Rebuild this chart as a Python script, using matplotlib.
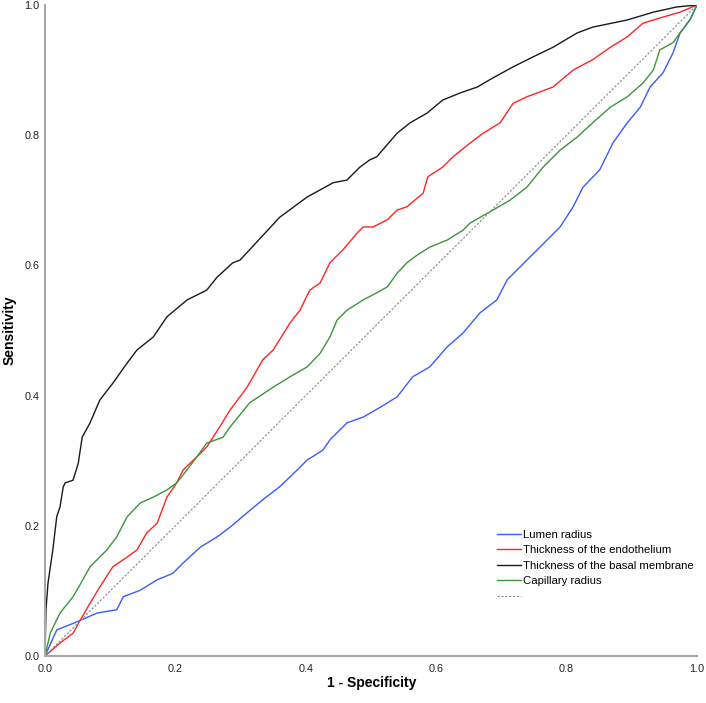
import numpy as np
import matplotlib
matplotlib.use('Agg')
import matplotlib.pyplot as plt

plt.rcParams['font.family'] = ['Liberation Sans', 'DejaVu Sans']

# ROC curves (1 - specificity, sensitivity)
lumen_fpr = [0, 0.018, 0.043, 0.08, 0.11, 0.12, 0.146, 0.172, 0.196, 0.212, 0.238, 0.264, 0.284,
             0.31, 0.334, 0.36, 0.387, 0.402, 0.426, 0.437, 0.463, 0.488, 0.514, 0.54, 0.564, 0.59,
             0.617, 0.641, 0.667, 0.693, 0.709, 0.729, 0.752, 0.77, 0.79, 0.81, 0.825, 0.851, 0.871,
             0.893, 0.913, 0.928, 0.948, 0.963, 0.974, 0.989, 1.0]
lumen_tpr = [0, 0.04, 0.05, 0.066, 0.071, 0.091, 0.101, 0.117, 0.127, 0.143, 0.167, 0.183, 0.198,
             0.22, 0.24, 0.26, 0.286, 0.301, 0.316, 0.332, 0.358, 0.367, 0.382, 0.398, 0.429, 0.444,
             0.475, 0.496, 0.527, 0.547, 0.578, 0.598, 0.621, 0.639, 0.659, 0.69, 0.72, 0.747, 0.788,
             0.819, 0.843, 0.874, 0.896, 0.926, 0.957, 0.977, 1.0]

endo_fpr = [0, 0.023, 0.043, 0.054, 0.069, 0.084, 0.104, 0.126, 0.141, 0.156, 0.172, 0.187, 0.202,
            0.212, 0.233, 0.248, 0.268, 0.284, 0.299, 0.31, 0.334, 0.35, 0.376, 0.391, 0.406, 0.422,
            0.437, 0.457, 0.479, 0.488, 0.503, 0.525, 0.54, 0.555, 0.58, 0.587, 0.61, 0.626, 0.652,
            0.672, 0.698, 0.718, 0.739, 0.779, 0.81, 0.84, 0.867, 0.893, 0.917, 0.943, 0.974, 1.0]
endo_tpr = [0, 0.02, 0.035, 0.055, 0.081, 0.106, 0.137, 0.152, 0.163, 0.189, 0.204, 0.244, 0.266,
            0.286, 0.306, 0.321, 0.352, 0.378, 0.398, 0.413, 0.455, 0.47, 0.512, 0.531, 0.562, 0.573,
            0.604, 0.624, 0.65, 0.659, 0.659, 0.67, 0.685, 0.69, 0.711, 0.736, 0.751, 0.767, 0.788,
            0.803, 0.819, 0.849, 0.859, 0.874, 0.9, 0.916, 0.935, 0.951, 0.972, 0.98, 0.989, 1.0]

basal_fpr = [0, 0.0015, 0.0046, 0.012, 0.018, 0.023, 0.028, 0.031, 0.043, 0.051, 0.057, 0.069, 0.084,
             0.104, 0.126, 0.141, 0.166, 0.187, 0.218, 0.248, 0.264, 0.288, 0.299, 0.36, 0.402, 0.442,
             0.463, 0.483, 0.498, 0.509, 0.54, 0.56, 0.586, 0.61, 0.637, 0.663, 0.687, 0.718, 0.748,
             0.779, 0.816, 0.84, 0.893, 0.933, 0.969, 1.0]
basal_tpr = [0, 0.071, 0.112, 0.163, 0.214, 0.229, 0.26, 0.266, 0.27, 0.296, 0.336, 0.358, 0.393,
             0.419, 0.45, 0.47, 0.49, 0.521, 0.547, 0.562, 0.582, 0.604, 0.608, 0.674, 0.705, 0.727,
             0.731, 0.751, 0.762, 0.767, 0.803, 0.819, 0.834, 0.854, 0.865, 0.874, 0.888, 0.905, 0.92,
             0.935, 0.957, 0.966, 0.977, 0.989, 0.997, 1.0]

cap_fpr = [0, 0.008, 0.023, 0.043, 0.058, 0.069, 0.095, 0.11, 0.126, 0.146, 0.166, 0.187, 0.202,
           0.218, 0.233, 0.248, 0.273, 0.284, 0.314, 0.35, 0.376, 0.402, 0.422, 0.437, 0.448, 0.463,
           0.488, 0.509, 0.525, 0.54, 0.555, 0.571, 0.59, 0.617, 0.641, 0.652, 0.687, 0.713, 0.739,
           0.764, 0.79, 0.816, 0.84, 0.867, 0.893, 0.917, 0.933, 0.943, 0.963, 0.974, 0.989, 1.0]
cap_tpr = [0, 0.035, 0.066, 0.091, 0.117, 0.137, 0.163, 0.183, 0.214, 0.235, 0.244, 0.255, 0.266,
           0.286, 0.306, 0.327, 0.336, 0.352, 0.389, 0.413, 0.429, 0.444, 0.465, 0.49, 0.516, 0.531,
           0.547, 0.558, 0.567, 0.588, 0.604, 0.616, 0.628, 0.639, 0.654, 0.665, 0.685, 0.7, 0.72,
           0.751, 0.777, 0.797, 0.819, 0.843, 0.859, 0.88, 0.9, 0.931, 0.942, 0.957, 0.977, 1.0]

labels = ['Lumen radius', 'Thickness of the endothelium', 'Thickness of the basal membrane',
          'Capillary radius']
ticks = [0.0, 0.2, 0.4, 0.6, 0.8, 1.0]

colors = ['#3a5bff', '#ff2424', '#1a1a1a', '#3c943c']

fig = plt.figure(figsize=(7.06, 7.03), dpi=100)
ax = fig.add_axes([45/706, 47/703, 652/706, 651/703])

curves = [(lumen_fpr, lumen_tpr), (endo_fpr, endo_tpr), (basal_fpr, basal_tpr), (cap_fpr, cap_tpr)]
handles = []
for (x, y), c, lab in zip(curves, colors, labels):
    h, = ax.plot(x, y, color=c, lw=1.0, label=lab)
    handles.append(h)

# reference diagonal
diag, = ax.plot([0, 1], [0, 1], color='#888888', lw=0.8, dashes=(2, 1.5))
handles.append(diag)

ax.set_xlim(0, 1)
ax.set_ylim(0, 1)
ax.set_xticks(ticks)
ax.set_yticks(ticks)
ax.set_xticklabels([f'{t:.1f}' for t in ticks])
ax.set_yticklabels([f'{t:.1f}' for t in ticks])
ax.tick_params(length=0, labelsize=7.8, colors='#222222', pad=4)
ax.tick_params(axis='x', pad=6)
for s in ['top', 'right']:
    ax.spines[s].set_visible(False)
for s in ['left', 'bottom']:
    ax.spines[s].set_color('#a8a8a8')
    ax.spines[s].set_linewidth(1.5)

fig.text(372/706, 1 - 683/703, '1 - Specificity', fontsize=10, fontweight='bold',
         ha='center', va='center')
fig.text(10/706, 1 - 330/703, 'Sensitivity', fontsize=10, fontweight='bold',
         ha='center', va='center', rotation=90)

leg = ax.legend(handles, labels + [' '], loc='upper left', bbox_to_anchor=(497/706, 1 - 530/703),
                bbox_transform=fig.transFigure, frameon=False, fontsize=8.2, borderpad=0,
                handlelength=2.1, handletextpad=0.15, labelspacing=0.48, borderaxespad=0)

fig.savefig('out.png', dpi=100)
